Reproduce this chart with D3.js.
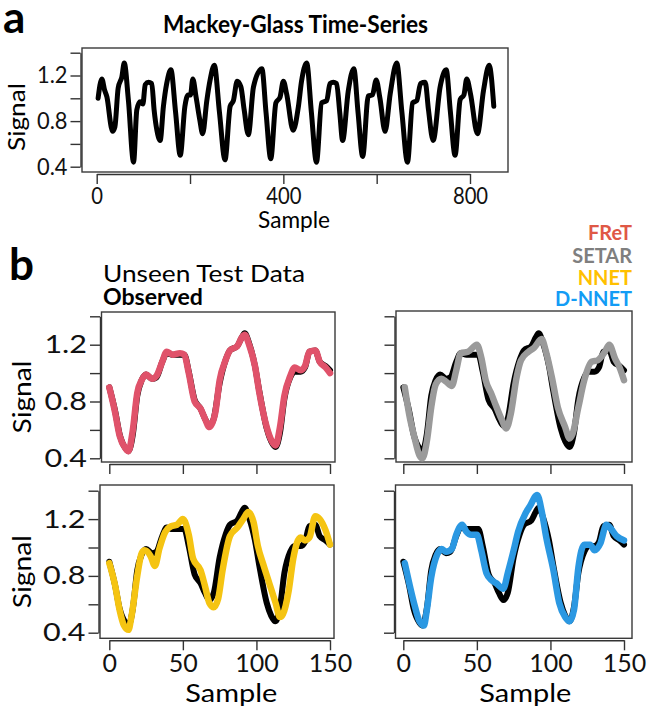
<!DOCTYPE html>
<html>
<head>
<meta charset="utf-8">
<script src="https://cdn.jsdelivr.net/npm/d3@7"></script>
<style>
  body { margin: 0; background: #fff; }
  svg { display: block; font-family: Lato, 'Open Sans', sans-serif; }
</style>
</head>
<body>
<svg id="fig" width="649" height="712"></svg>
<script>
const mgSeries = [[3,1.00],[11,1.17],[17,1.07],[22,1.01],[31,0.75],[34,0.71],[39,0.75],[46,1.09],[54,1.19],[59,1.31],[68,0.98],[79,0.44],[86,0.90],[93,0.97],[99,0.95],[104,1.12],[111,1.14],[118,1.13],[123,0.90],[129,0.72],[136,0.63],[143,0.93],[150,1.13],[159,1.25],[169,0.88],[179,0.50],[189,0.93],[196,1.03],[201,1.03],[206,1.17],[213,1.01],[221,0.81],[227,0.69],[236,0.98],[243,1.16],[252,1.29],[263,0.88],[275,0.46],[286,0.93],[293,0.98],[301,1.15],[309,1.10],[316,0.90],[325,0.68],[336,1.10],[354,1.26],[363,0.87],[373,0.47],[384,0.96],[393,1.01],[400,1.15],[407,1.04],[421,0.72],[432,0.92],[439,1.15],[450,1.31],[460,0.88],[471,0.44],[482,0.96],[493,0.98],[500,1.13],[507,1.14],[514,1.13],[521,0.87],[527,0.63],[539,1.06],[551,1.26],[560,0.88],[570,0.49],[582,1.02],[591,1.03],[599,1.16],[607,1.00],[618,0.71],[629,1.04],[643,1.31],[654,0.88],[666,0.44],[677,0.96],[686,0.98],[694,1.13],[704,1.14],[711,0.90],[721,0.63],[736,1.10],[749,1.25],[758,0.88],[768,0.50],[779,0.99],[787,1.03],[793,1.17],[801,1.04],[816,0.69],[829,1.07],[841,1.29],[851,0.93]]

// panel b: unseen test data (150 samples)
const observed = [[0,0.90],[4,0.73],[7,0.57],[11,0.47],[13,0.45],[16,0.57],[19,0.84],[22,0.95],[25,0.99],[29,0.96],[32,0.97],[36,1.08],[39,1.14],[43,1.13],[48,1.13],[51,1.13],[54,1.01],[58,0.81],[62,0.75],[65,0.68],[68,0.63],[71,0.68],[75,0.93],[79,1.09],[82,1.16],[87,1.19],[90,1.25],[92,1.28],[95,1.21],[99,1.05],[102,0.87],[107,0.61],[110,0.52],[113,0.48],[116,0.58],[119,0.82],[123,0.97],[126,1.01],[130,1.01],[133,1.04],[136,1.15],[140,1.16],[143,1.08],[147,1.05],[150,1.02]]
const fret = [[0,0.90],[4,0.72],[7,0.56],[11,0.47],[13,0.45],[16,0.60],[19,0.86],[22,0.95],[25,0.99],[29,0.96],[32,0.98],[36,1.08],[39,1.15],[43,1.13],[48,1.14],[51,1.13],[54,1.00],[58,0.80],[62,0.75],[65,0.68],[68,0.62],[72,0.72],[75,0.95],[79,1.09],[82,1.16],[87,1.19],[90,1.25],[92,1.27],[95,1.20],[99,1.05],[102,0.86],[107,0.62],[110,0.53],[113,0.49],[116,0.62],[119,0.84],[123,0.98],[126,1.04],[130,1.02],[133,1.05],[136,1.15],[140,1.16],[143,1.08],[147,1.04],[150,1.00]]
const setar = [[1,0.90],[4,0.71],[7.5,0.55],[11,0.42],[13,0.40],[16,0.52],[19,0.76],[22,0.92],[26,0.96],[29,0.94],[33,0.91],[36,1.02],[39,1.14],[44,1.15],[50,1.20],[53,1.11],[56,0.95],[60,0.85],[63,0.77],[67,0.67],[70,0.61],[73,0.71],[77,0.97],[80,1.09],[85,1.15],[89,1.18],[94,1.24],[97,1.15],[101,0.97],[105,0.76],[110,0.62],[113,0.54],[115,0.57],[119,0.76],[123,0.95],[128,1.08],[132,1.09],[137,1.15],[140,1.20],[144,1.10],[147,1.04],[150,0.95]]
const nnet = [[0,0.89],[4,0.73],[7,0.56],[10,0.45],[13,0.42],[15,0.51],[19,0.80],[22,0.96],[24,0.98],[28,0.94],[31,0.87],[34,0.99],[38,1.11],[42,1.15],[46,1.16],[50,1.20],[54,1.09],[57,0.92],[62,0.84],[65,0.73],[68,0.61],[71,0.58],[74,0.64],[77,0.84],[82,1.08],[87,1.14],[91,1.20],[94.5,1.25],[98,1.18],[101,1.01],[105,0.87],[109,0.74],[113,0.61],[116,0.51],[118,0.53],[122,0.70],[125,0.92],[130,1.07],[133,1.05],[136,1.07],[140,1.22],[143,1.20],[147,1.12],[150,1.02]]
const dnnet = [[1,0.89],[4,0.75],[8,0.58],[11,0.48],[14,0.45],[16,0.56],[19,0.79],[23,0.95],[26,0.99],[29,0.97],[33,0.99],[36,1.09],[40,1.16],[43,1.11],[46,1.09],[50,1.09],[53,0.98],[56.5,0.82],[60,0.77],[63,0.75],[68,0.71],[71,0.82],[75,0.98],[78,1.11],[83,1.24],[86,1.29],[91,1.37],[94,1.26],[97,1.08],[102,0.84],[106,0.61],[110,0.51],[113,0.48],[116,0.56],[119,0.86],[123,1.02],[127,1.02],[130,0.98],[134,1.03],[138,1.16],[142,1.12],[145,1.08],[150,1.05]]

const modelNames = ['FReT', 'SETAR', 'NNET', 'D-NNET']
const modelSeries = [fret, setar, nnet, dnnet]
const lineColors = ['#e0526a', '#9a9a9a', '#f5c412', '#2b98e2']
const textColors = ['#df5846', '#7f7f7f', '#ffc000', '#139cf5']

const signalTicks = [0.4, 0.6, 0.8, 1.0, 1.2, 1.4]
const signalLabels = [0.4, 0.8, 1.2]
const sampleTicksA = [0, 200, 400, 600, 800]
const sampleLabelsA = [0, 400, 800]
const sampleTicksB = [0, 50, 100, 150]

const svg = d3.select('#fig')

// squeeze/stretch text to match the original font widths
const fit = (sel, k) => sel.each(function () {
  const w = this.getComputedTextLength()
  d3.select(this).attr('textLength', w * k).attr('lengthAdjust', 'spacingAndGlyphs')
})

const panel = p => {
  const g = svg.append('g')
  const x = d3.scaleLinear().domain(p.xDomain).range(p.xRange)
  const y = d3.scaleLinear().domain([0.4, 1.4]).range(p.yRange)

  g.append('rect')
    .attr('x', p.box[0]).attr('y', p.box[1])
    .attr('width', p.box[2] - p.box[0]).attr('height', p.box[3] - p.box[1])
    .attr('fill', 'none').attr('stroke', '#3a3a3a').attr('stroke-width', 1.4)

  const ya = g.append('g')
    .attr('transform', 'translate(' + (p.box[0] - 1.5) + ',0)')
    .call(d3.axisLeft(y).tickValues(signalTicks).tickSize(10).tickSizeOuter(0).tickPadding(3)
      .tickFormat(d => p.yLabels && signalLabels.includes(d) ? d3.format('.1f')(d) : ''))
  const xa = g.append('g')
    .attr('transform', 'translate(0,' + (p.box[3] + 2) + ')')
    .call(d3.axisBottom(x).tickValues(p.xTicks).tickSize(10).tickSizeOuter(0).tickPadding(4)
      .tickFormat(d => p.xLabels && p.xLabels.includes(d) ? d : ''))

  for (const a of [ya, xa]) {
    a.attr('font-family', null).attr('font-size', null)
    a.selectAll('path, line').attr('stroke', '#333').attr('stroke-width', 1.4)
    a.selectAll('text').attr('fill', '#111').style('font-size', p.tickFont + 'px')
  }
  fit(ya.selectAll('text'), p.yFit)
  fit(xa.selectAll('text'), p.xFit)

  const line = d3.line()
    .x(d => x(d[0]))
    .y(d => y(d[1]))
    .curve(d3.curveMonotoneX)

  for (const s of p.series) {
    g.append('path')
      .datum(s.data)
      .attr('fill', 'none')
      .attr('stroke', s.color)
      .attr('stroke-width', s.width)
      .attr('stroke-linejoin', 'round')
      .attr('stroke-linecap', 'round')
      .attr('d', line)
  }

  if (p.ylab) {
    g.append('text')
      .attr('transform', 'translate(' + p.ylab[0] + ',' + p.ylab[1] + ') rotate(-90)')
      .attr('text-anchor', 'middle')
      .style('font-size', p.labFont + 'px')
      .attr('textLength', p.ylab[2]).attr('lengthAdjust', 'spacingAndGlyphs')
      .text('Signal')
  }
  if (p.xlab) {
    g.append('text')
      .attr('x', p.xlab[0]).attr('y', p.xlab[1])
      .attr('text-anchor', 'middle')
      .style('font-size', p.labFont + 'px')
      .attr('textLength', p.xlab[2]).attr('lengthAdjust', 'spacingAndGlyphs')
      .text('Sample')
  }
}

// panel a
panel({
  box: [82, 48, 508, 172],
  xDomain: [0, 800], xRange: [96.7, 470],
  yRange: [166.7, 52.7],
  xTicks: sampleTicksA, xLabels: sampleLabelsA, yLabels: true,
  tickFont: 23, yFit: 0.95, xFit: 0.88, labFont: 24,
  ylab: [25, 117, 68], xlab: [294, 228, 72],
  series: [{ data: mgSeries, color: '#000', width: 5 }]
})

// panel b, four model comparisons
const spots = [
  { box: [101.5, 312, 335, 462], x0: 109.3, y0: 458.3, xl: false, yl: true },
  { box: [396, 311, 632, 462], x0: 403.3, y0: 458.3, xl: false, yl: false },
  { box: [100, 485, 334, 638.3], x0: 109.3, y0: 632.7, xl: true, yl: true },
  { box: [395.5, 485, 632, 638.3], x0: 403.3, y0: 632.7, xl: true, yl: false }
]
spots.forEach((s, i) => {
  panel({
    box: s.box,
    xDomain: [0, 150], xRange: [s.x0, s.x0 + 220.7],
    yRange: [s.y0, s.y0 - 142],
    xTicks: sampleTicksB, xLabels: s.xl ? sampleTicksB : null, yLabels: s.yl,
    tickFont: 25, yFit: 1.22, xFit: 1.0, labFont: 25,
    ylab: s.yl ? [31, (s.box[1] + s.box[3]) / 2 + 10, 73] : null,
    xlab: s.xl ? [s.x0 + 122, 702, 92] : null,
    series: [
      { data: observed, color: '#000', width: 6 },
      { data: modelSeries[i], color: lineColors[i], width: 6.5 }
    ]
  })
})

// titles and panel letters
svg.append('text').attr('x', 3).attr('y', 33)
  .style('font-size', '44px').style('font-weight', 700).text('a')
svg.append('text').attr('x', 9).attr('y', 280)
  .style('font-size', '44px').style('font-weight', 700).text('b')

svg.append('text').attr('x', 295.5).attr('y', 33)
  .attr('text-anchor', 'middle')
  .style('font-size', '25px').style('font-weight', 700)
  .attr('textLength', 265).attr('lengthAdjust', 'spacingAndGlyphs')
  .text('Mackey-Glass Time-Series')

svg.append('text').attr('x', 103).attr('y', 281.5)
  .style('font-size', '23px')
  .attr('textLength', 202).attr('lengthAdjust', 'spacingAndGlyphs')
  .text('Unseen Test Data')
svg.append('text').attr('x', 103).attr('y', 305)
  .style('font-size', '22px').style('font-weight', 700)
  .attr('textLength', 100).attr('lengthAdjust', 'spacingAndGlyphs')
  .text('Observed')

// model legend, right aligned
const legendY = [240, 263, 285, 306]
svg.append('g').selectAll('text')
  .data(modelNames)
  .join('text')
  .attr('x', 632)
  .attr('y', (d, i) => legendY[i])
  .attr('text-anchor', 'end')
  .attr('fill', (d, i) => textColors[i])
  .style('font-size', '20px').style('font-weight', 700)
  .text(d => d)
</script>
</body>
</html>
